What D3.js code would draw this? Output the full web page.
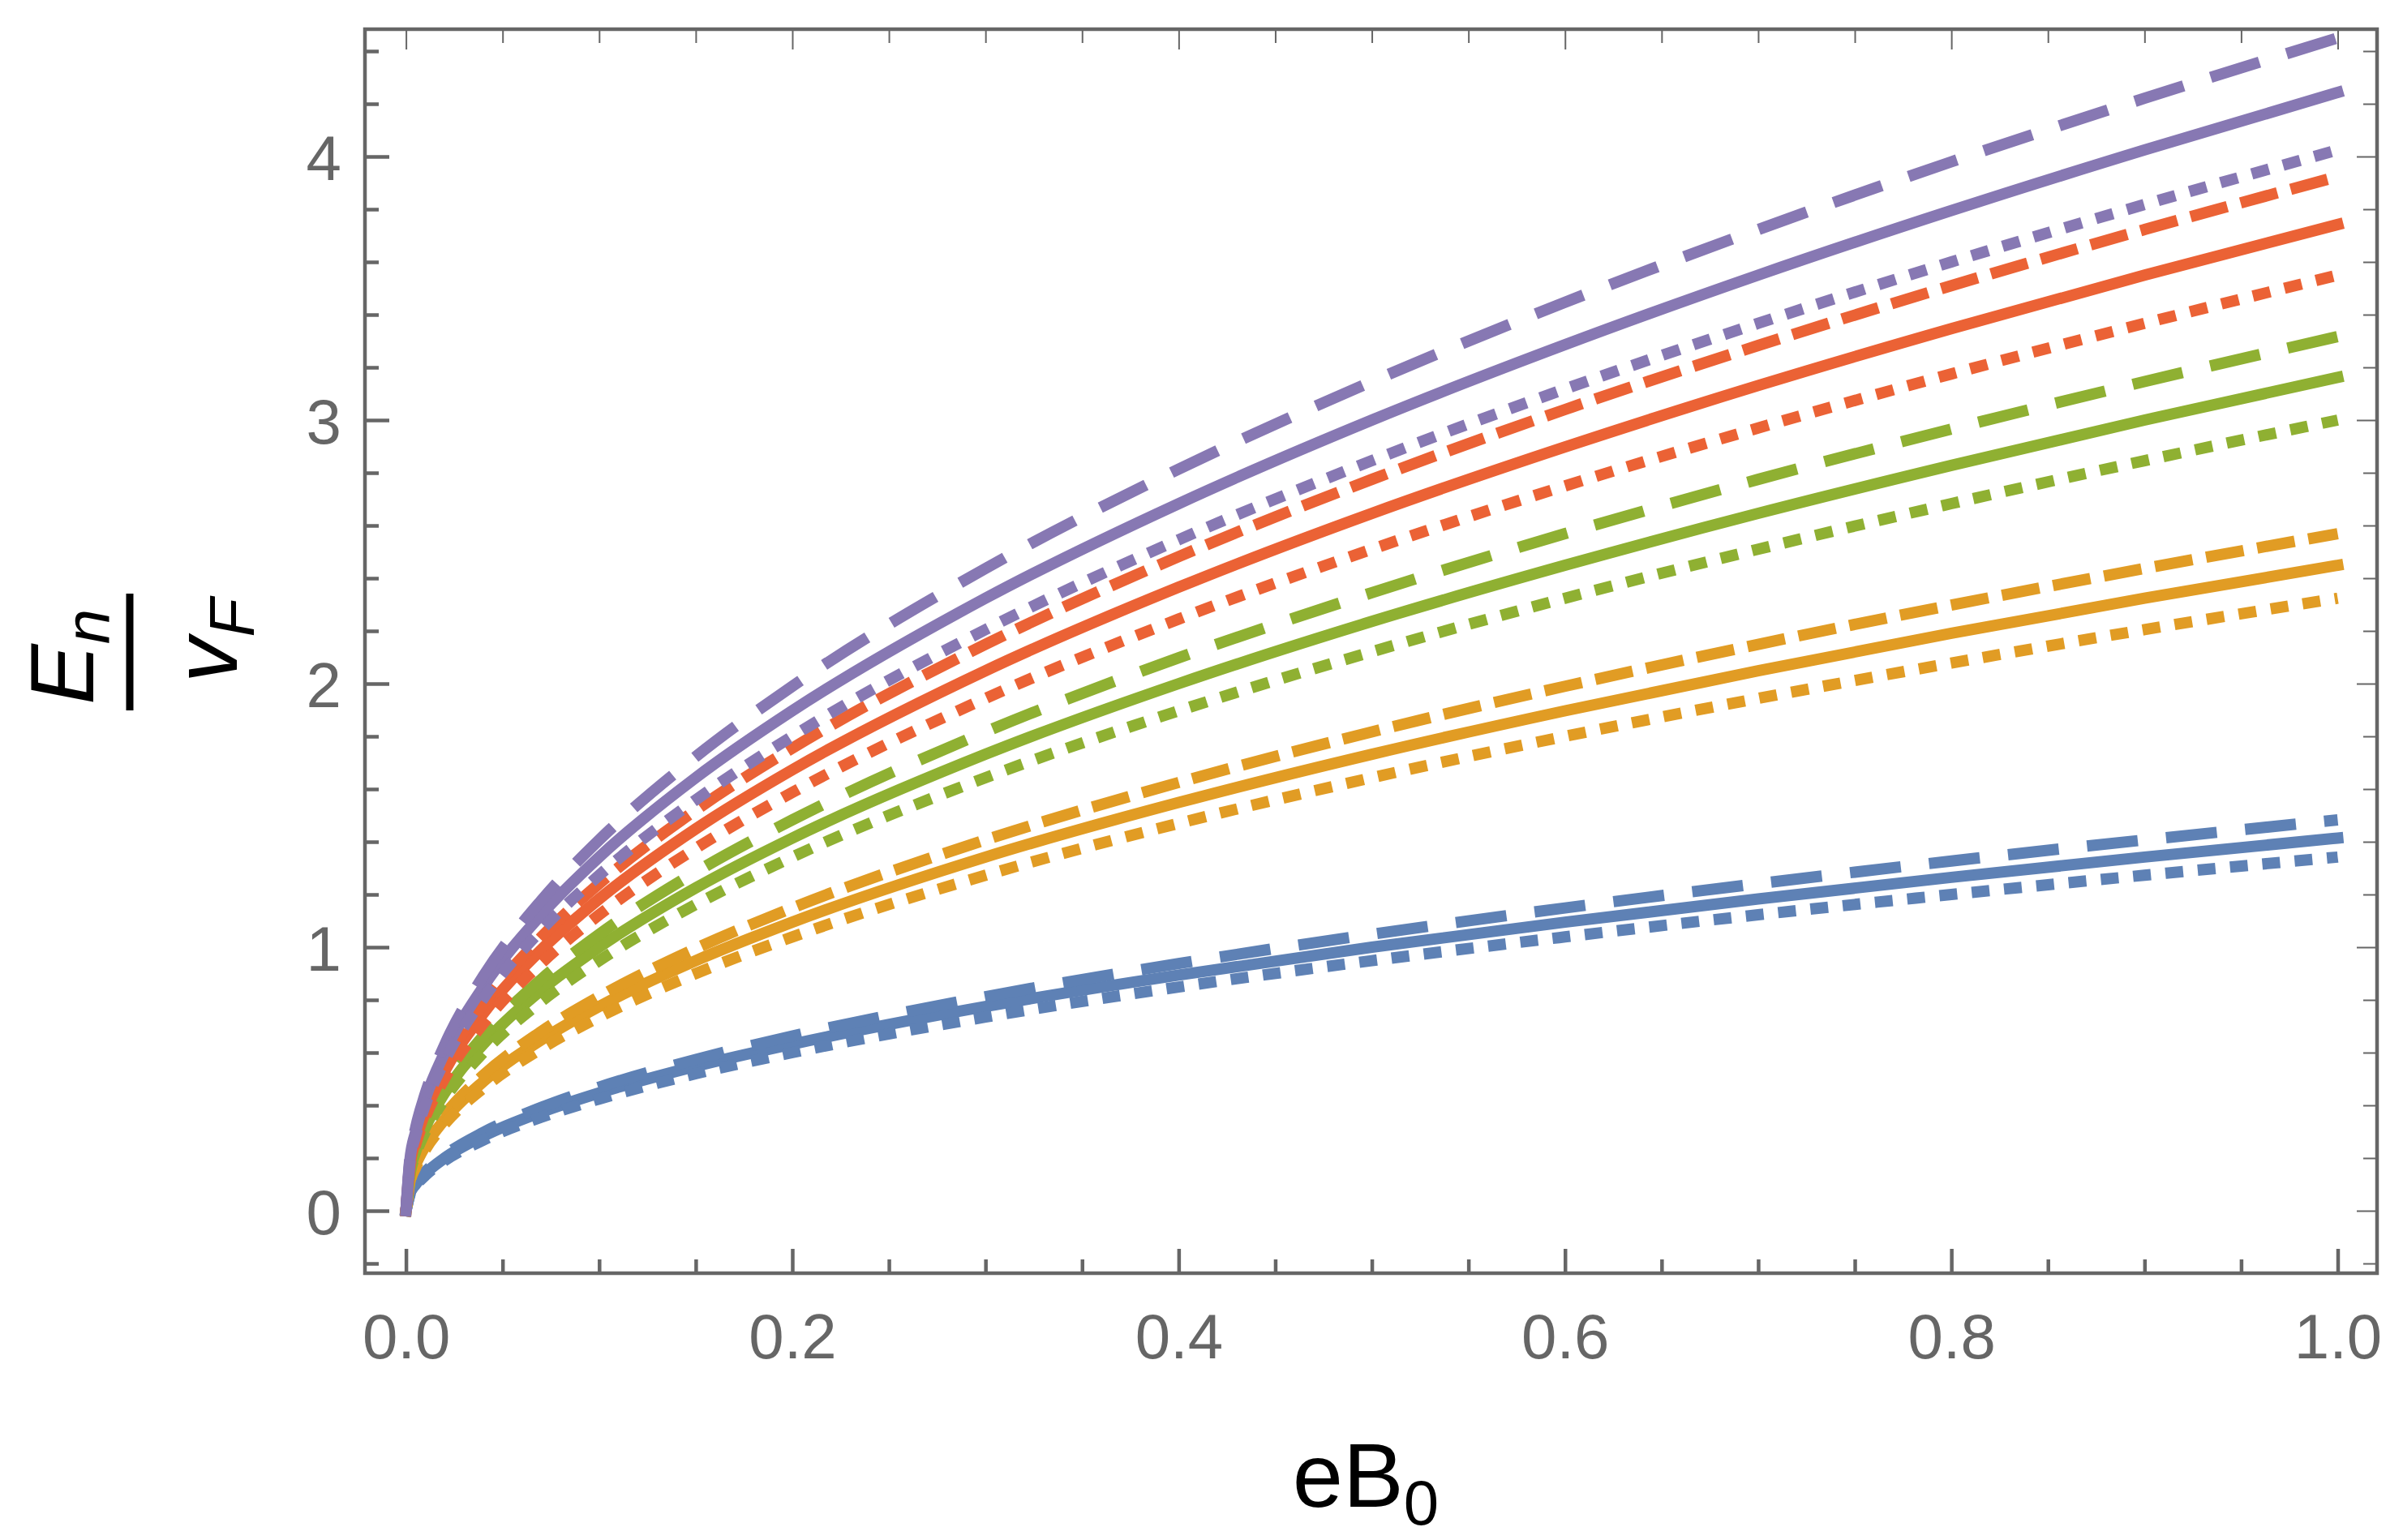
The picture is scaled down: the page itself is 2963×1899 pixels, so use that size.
<!DOCTYPE html>
<html>
<head>
<meta charset="utf-8">
<script src="https://cdn.jsdelivr.net/npm/d3@7/dist/d3.min.js"></script>
<style>
html,body{margin:0;padding:0;background:#fff;}
svg{display:block;}
</style>
</head>
<body>
<svg id="chart" width="2963" height="1899"></svg>
<script>
// ---------- data ----------
const xVals = [0, 0.002, 0.005, 0.01, 0.02, 0.04, 0.07, 0.1, 0.15, 0.2, 0.3, 0.4, 0.5, 0.6, 0.7, 0.8, 0.9, 1.0];

const n1Solid  = [0, 0.063, 0.100, 0.141, 0.200, 0.283, 0.374, 0.447, 0.548, 0.632, 0.775, 0.894, 1.000, 1.095, 1.183, 1.265, 1.342, 1.414];
const n1Dashed = [0, 0.066, 0.105, 0.148, 0.210, 0.297, 0.392, 0.469, 0.574, 0.663, 0.812, 0.938, 1.049, 1.149, 1.241, 1.327, 1.407, 1.483];
const n1Dotted = [0, 0.060, 0.095, 0.134, 0.190, 0.268, 0.355, 0.424, 0.520, 0.600, 0.735, 0.849, 0.949, 1.039, 1.123, 1.200, 1.273, 1.342];

const n2Solid  = [0, 0.110, 0.173, 0.245, 0.346, 0.490, 0.648, 0.775, 0.949, 1.095, 1.342, 1.549, 1.732, 1.897, 2.049, 2.191, 2.324, 2.449];
const n2Dashed = [0, 0.115, 0.182, 0.257, 0.363, 0.514, 0.680, 0.812, 0.995, 1.149, 1.407, 1.625, 1.817, 1.990, 2.149, 2.298, 2.437, 2.569];
const n2Dotted = [0, 0.104, 0.164, 0.232, 0.329, 0.465, 0.615, 0.735, 0.900, 1.039, 1.273, 1.470, 1.643, 1.800, 1.944, 2.078, 2.205, 2.324];

const n3Solid  = [0, 0.141, 0.224, 0.316, 0.447, 0.632, 0.837, 1.000, 1.225, 1.414, 1.732, 2.000, 2.236, 2.449, 2.646, 2.828, 3.000, 3.162];
const n3Dashed = [0, 0.148, 0.235, 0.332, 0.469, 0.663, 0.878, 1.049, 1.285, 1.483, 1.817, 2.098, 2.345, 2.569, 2.775, 2.966, 3.146, 3.317];
const n3Dotted = [0, 0.134, 0.212, 0.300, 0.424, 0.600, 0.794, 0.949, 1.162, 1.342, 1.643, 1.897, 2.121, 2.324, 2.510, 2.683, 2.846, 3.000];

const n4Solid  = [0, 0.167, 0.265, 0.374, 0.529, 0.748, 0.990, 1.183, 1.449, 1.673, 2.049, 2.366, 2.646, 2.898, 3.131, 3.347, 3.550, 3.742];
const n4Dashed = [0, 0.176, 0.277, 0.392, 0.555, 0.785, 1.038, 1.241, 1.520, 1.755, 2.149, 2.482, 2.775, 3.040, 3.283, 3.510, 3.723, 3.924];
const n4Dotted = [0, 0.159, 0.251, 0.355, 0.502, 0.710, 0.939, 1.123, 1.375, 1.587, 1.944, 2.245, 2.510, 2.750, 2.970, 3.175, 3.367, 3.550];

const n5Solid  = [0, 0.190, 0.300, 0.424, 0.600, 0.849, 1.123, 1.342, 1.643, 1.897, 2.324, 2.683, 3.000, 3.286, 3.550, 3.795, 4.025, 4.243];
const n5Dashed = [0, 0.199, 0.315, 0.445, 0.629, 0.890, 1.177, 1.407, 1.723, 1.990, 2.437, 2.814, 3.146, 3.447, 3.723, 3.980, 4.221, 4.450];
const n5Dotted = [0, 0.180, 0.285, 0.402, 0.569, 0.805, 1.065, 1.273, 1.559, 1.800, 2.205, 2.546, 2.846, 3.118, 3.367, 3.600, 3.818, 4.025];

const xMajorTicks = [0, 0.2, 0.4, 0.6, 0.8, 1.0];
const xTickLabels = ["0.0", "0.2", "0.4", "0.6", "0.8", "1.0"];
const xMinorTicks = [0.05, 0.1, 0.15, 0.25, 0.3, 0.35, 0.45, 0.5, 0.55, 0.65, 0.7, 0.75, 0.85, 0.9, 0.95];
const yMajorTicks = [0, 1, 2, 3, 4];
const yTickLabels = ["0", "1", "2", "3", "4"];
const yMinorTicks = [-0.2, 0.2, 0.4, 0.6, 0.8, 1.2, 1.4, 1.6, 1.8, 2.2, 2.4, 2.6, 2.8, 3.2, 3.4, 3.6, 3.8, 4.2, 4.4];

// ---------- styles ----------
const colors = {n1: "#5E81B5", n2: "#E19C24", n3: "#8FB032", n4: "#EB6235", n5: "#8778B3"};
const longDash = "63,35", shortDash = "47,17", dotDash = "22,18";
const seriesList = [
  {v: n1Solid, c: colors.n1, dash: null},
  {v: n1Dashed, c: colors.n1, dash: longDash},
  {v: n1Dotted, c: colors.n1, dash: dotDash},
  {v: n2Solid, c: colors.n2, dash: null},
  {v: n2Dashed, c: colors.n2, dash: shortDash},
  {v: n2Dotted, c: colors.n2, dash: dotDash},
  {v: n3Solid, c: colors.n3, dash: null},
  {v: n3Dashed, c: colors.n3, dash: longDash},
  {v: n3Dotted, c: colors.n3, dash: dotDash},
  {v: n4Solid, c: colors.n4, dash: null},
  {v: n4Dashed, c: colors.n4, dash: shortDash},
  {v: n4Dotted, c: colors.n4, dash: dotDash},
  {v: n5Solid, c: colors.n5, dash: null},
  {v: n5Dashed, c: colors.n5, dash: longDash},
  {v: n5Dotted, c: colors.n5, dash: dotDash}
];

const frame = {left: 450, right: 2931, top: 36, bottom: 1570};
const axisColor = "#666666";
const font = "'Liberation Sans', Arial, Helvetica, sans-serif";

const svg = d3.select("#chart");
svg.append("rect").attr("width", 2963).attr("height", 1899).attr("fill", "#fff");

const x = d3.scaleLinear().domain([0, 1]).range([500.6, 2882.5]);
const y = d3.scaleLinear().domain([0, 4]).range([1493, 193]);

// ---------- curves ----------
const line = d3.line().x((d, i) => x(xVals[i])).y(d => y(d)).curve(d3.curveMonotoneX);
const curves = svg.append("g");
seriesList.forEach(s => {
  const p = curves.append("path")
    .attr("d", line(s.v))
    .attr("fill", "none")
    .attr("stroke", s.c)
    .attr("stroke-width", 14)
    .attr("stroke-linejoin", "round");
  if (s.dash) p.attr("stroke-dasharray", s.dash).attr("stroke-linecap", "butt");
  else p.attr("stroke-linecap", "square");
});

// ---------- axes ----------
function styleAxis(g, w) {
  g.select(".domain").remove();
  g.selectAll(".tick line").attr("stroke", axisColor).attr("stroke-width", w);
  g.selectAll(".tick text").attr("fill", axisColor).attr("font-family", font).attr("font-size", 78);
}
// bottom (thick, labelled)
const gB = svg.append("g").attr("transform", `translate(0,${frame.bottom})`)
  .call(d3.axisBottom(x).tickValues(xMajorTicks).tickFormat((d, i) => xTickLabels[i]).tickSize(-30).tickPadding(50));
styleAxis(gB, 4.5);
svg.append("g").attr("transform", `translate(0,${frame.bottom})`)
  .call(d3.axisBottom(x).tickValues(xMinorTicks).tickFormat("").tickSize(-17)).call(g => styleAxis(g, 4.5));
// left (thick, labelled)
const gL = svg.append("g").attr("transform", `translate(${frame.left},0)`)
  .call(d3.axisLeft(y).tickValues(yMajorTicks).tickFormat((d, i) => yTickLabels[i]).tickSize(-30).tickPadding(29));
styleAxis(gL, 4.5);
gL.selectAll(".tick text").attr("dy", "0.36em");
svg.append("g").attr("transform", `translate(${frame.left},0)`)
  .call(d3.axisLeft(y).tickValues(yMinorTicks).tickFormat("").tickSize(-17)).call(g => styleAxis(g, 4.5));
// top (thin)
svg.append("g").attr("transform", `translate(0,${frame.top})`)
  .call(d3.axisTop(x).tickValues(xMajorTicks).tickFormat("").tickSize(-25)).call(g => styleAxis(g, 2));
svg.append("g").attr("transform", `translate(0,${frame.top})`)
  .call(d3.axisTop(x).tickValues(xMinorTicks).tickFormat("").tickSize(-17)).call(g => styleAxis(g, 2));
// right (thin)
svg.append("g").attr("transform", `translate(${frame.right},0)`)
  .call(d3.axisRight(y).tickValues(yMajorTicks).tickFormat("").tickSize(-25)).call(g => styleAxis(g, 2));
svg.append("g").attr("transform", `translate(${frame.right},0)`)
  .call(d3.axisRight(y).tickValues(yMinorTicks).tickFormat("").tickSize(-17)).call(g => styleAxis(g, 2));

// frame
svg.append("rect")
  .attr("x", frame.left).attr("y", frame.top)
  .attr("width", frame.right - frame.left).attr("height", frame.bottom - frame.top)
  .attr("fill", "none").attr("stroke", axisColor).attr("stroke-width", 4.5);

// ---------- axis titles ----------
const xt = svg.append("text")
  .attr("x", 1684).attr("y", 1858)
  .attr("text-anchor", "middle").attr("font-family", font).attr("fill", "#000");
xt.append("tspan").attr("font-size", 112).text("eB");
xt.append("tspan").attr("font-size", 78).attr("dy", 22).text("0");

const yg = svg.append("g").attr("transform", "translate(0,804) rotate(-90)");
const num = yg.append("text").attr("x", -6).attr("y", 115)
  .attr("text-anchor", "middle").attr("font-family", font).attr("font-style", "italic").attr("fill", "#000");
num.append("tspan").attr("font-size", 112).text("E");
num.append("tspan").attr("font-size", 78).attr("dy", 20).text("n");
yg.append("line").attr("x1", -72).attr("x2", 72).attr("y1", 160).attr("y2", 160)
  .attr("stroke", "#000").attr("stroke-width", 9);
const den = yg.append("text").attr("x", 14).attr("y", 292)
  .attr("text-anchor", "middle").attr("font-family", font).attr("font-style", "italic").attr("fill", "#000");
den.append("tspan").attr("font-size", 112).text("v");
den.append("tspan").attr("font-size", 78).attr("dy", 21).text("F");
</script>
</body>
</html>
